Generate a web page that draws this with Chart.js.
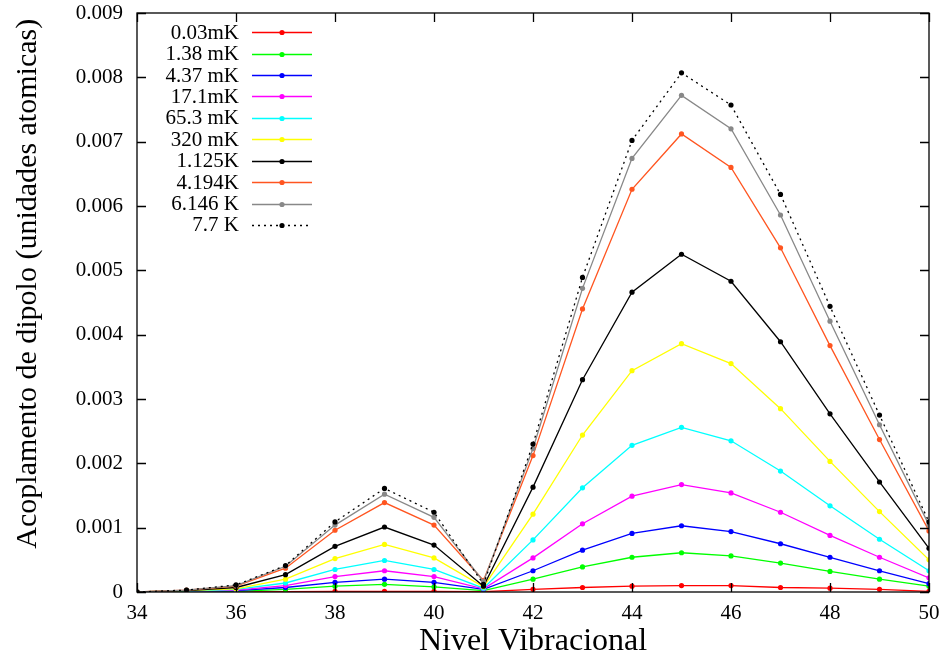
<!DOCTYPE html>
<html><head><meta charset="utf-8">
<script src="https://cdn.jsdelivr.net/npm/chart.js@4/dist/chart.umd.min.js"></script>
<style>html,body{margin:0;padding:0;background:#fff}#wrap{width:946px;height:664px}</style>
</head><body><div id="wrap"><canvas id="c" width="946" height="664"></canvas></div>
<script>
const levels = [34,35,36,37,38,39,40,41,42,43,44,45,46,47,48,49,50];
const seriesLabels = ['0.03mK','1.38 mK','4.37 mK','17.1mK','65.3 mK','320 mK','1.125K','4.194K','6.146 K','7.7 K'];
const s003mK  = [0,0,0,0.000005,0.00001,0.00001,0.00001,0.000005,0.00004,0.00007,0.00009,0.0001,0.0001,0.00007,0.00006,0.00004,0.00001];
const s138mK  = [0,0.000005,0.00001,0.00004,0.00009,0.00012,0.00008,0.00002,0.0002,0.00039,0.00054,0.00061,0.00056,0.00045,0.00032,0.0002,0.00009];
const s437mK  = [0,0.00001,0.00002,0.00007,0.00015,0.0002,0.00015,0.00004,0.00033,0.00065,0.00091,0.00103,0.00094,0.00075,0.00054,0.00033,0.00013];
const s171mK  = [0,0.00001,0.00003,0.0001,0.00024,0.00033,0.00024,0.00005,0.00053,0.00106,0.00149,0.00167,0.00154,0.00124,0.00088,0.00054,0.00022];
const s653mK  = [0,0.00001,0.00004,0.00014,0.00035,0.00049,0.00035,0.00006,0.00081,0.00162,0.00228,0.00256,0.00235,0.00188,0.00134,0.00082,0.00033];
const s320mK  = [0,0.00002,0.00005,0.0002,0.00052,0.00074,0.00053,0.00008,0.00121,0.00244,0.00344,0.00386,0.00355,0.00285,0.00203,0.00125,0.0005];
const s1125K  = [0,0.00002,0.00007,0.00027,0.00071,0.00101,0.00073,0.00009,0.00163,0.0033,0.00466,0.00525,0.00483,0.00389,0.00277,0.00171,0.00068];
const s4194K  = [0,0.00003,0.00009,0.00037,0.00096,0.00139,0.00104,0.00018,0.00212,0.0044,0.00626,0.00712,0.0066,0.00535,0.00383,0.00237,0.00095];
const s6146K  = [0,0.00003,0.0001,0.0004,0.00104,0.00152,0.00116,0.00016,0.00223,0.00472,0.00674,0.00772,0.0072,0.00586,0.00421,0.0026,0.00104];
const s77K    = [0,0.00003,0.00011,0.00041,0.00109,0.00161,0.00124,0.00012,0.0023,0.00489,0.00702,0.00807,0.00757,0.00618,0.00444,0.00275,0.00109];
const allSeries = [s003mK,s138mK,s437mK,s171mK,s653mK,s320mK,s1125K,s4194K,s6146K,s77K];
const colors = ['#ff0000','#00ff00','#0000ff','#ff00ff','#00ffff','#ffff00','#000000','#ff5520','#888888','#000000'];
const dashes = [[],[],[],[],[],[],[],[],[],[2,4]];

const FONT = "'Liberation Serif','DejaVu Serif',serif";

const datasets = allSeries.map((arr,i)=>({
  label: seriesLabels[i],
  data: levels.map((x,j)=>({x:x,y:arr[j]})),
  borderColor: colors[i],
  backgroundColor: colors[i],
  borderWidth: 1.3,
  borderDash: dashes[i],
  pointRadius: 2.6,
  pointBorderWidth: 0,
  pointBackgroundColor: colors[i],
  tension: 0,
  fill: false,
  order: allSeries.length - i
}));

const framePlugin = {
  id: 'frame',
  afterDraw(chart){
    const ctx = chart.ctx, a = chart.chartArea;
    const xs = chart.scales.x, ys = chart.scales.y;
    ctx.save();
    ctx.strokeStyle = '#000'; ctx.lineWidth = 1.3; ctx.setLineDash([]);
    ctx.strokeRect(a.left, a.top, a.right - a.left, a.bottom - a.top);
    const L = 9;
    ctx.beginPath();
    xs.ticks.forEach(t=>{
      const px = Math.round(xs.getPixelForValue(t.value)) + 0.5;
      ctx.moveTo(px, a.bottom); ctx.lineTo(px, a.bottom - L);
      ctx.moveTo(px, a.top); ctx.lineTo(px, a.top + L);
    });
    ys.ticks.forEach(t=>{
      const py = Math.round(ys.getPixelForValue(t.value)) + 0.5;
      ctx.moveTo(a.left, py); ctx.lineTo(a.left + L, py);
      ctx.moveTo(a.right, py); ctx.lineTo(a.right - L, py);
    });
    ctx.stroke();
    // legend
    ctx.font = '21px ' + FONT;
    ctx.textAlign = 'right'; ctx.textBaseline = 'middle'; ctx.fillStyle = '#000';
    chart.data.datasets.forEach((ds,i)=>{
      const y = a.top + 19.3 + i*21.4;
      ctx.fillText(ds.label, a.left + 102, y + 1);
      ctx.strokeStyle = ds.borderColor; ctx.lineWidth = 1.6;
      ctx.setLineDash(ds.borderDash || []);
      ctx.beginPath(); ctx.moveTo(a.left + 115, Math.round(y)+0.5); ctx.lineTo(a.left + 175, Math.round(y)+0.5); ctx.stroke();
      ctx.setLineDash([]);
      ctx.fillStyle = ds.pointBackgroundColor;
      ctx.beginPath(); ctx.arc(a.left + 145, Math.round(y)+0.5, 2.6, 0, Math.PI*2); ctx.fill();
      ctx.fillStyle = '#000';
    });
    ctx.restore();
  }
};

new Chart(document.getElementById('c'), {
  type: 'line',
  data: { datasets: datasets },
  options: {
    responsive: false, animation: false, devicePixelRatio: 1,
    layout: { padding: { top: 13, right: 17, left: 0, bottom: 0 } },
    plugins: { legend: { display: false }, tooltip: { enabled: false } },
    scales: {
      x: {
        type: 'linear', min: 34, max: 50,
        afterFit(s){ s.height = 72; s.paddingLeft = 0; s.paddingRight = 0; },
        grid: { display: false, drawTicks: false },
        border: { display: false },
        ticks: { stepSize: 2, color: '#000', font: { family: FONT, size: 21 }, padding: 9, maxRotation: 0 },
        title: { display: true, text: 'Nivel Vibracional', color: '#000', font: { family: FONT, size: 32 }, padding: { top: 0, bottom: 3 } }
      },
      y: {
        min: 0, max: 0.009,
        afterFit(s){ s.width = 137; s.paddingTop = 0; s.paddingBottom = 0; },
        grid: { display: false, drawTicks: false },
        border: { display: false },
        ticks: { stepSize: 0.001, color: '#000', font: { family: FONT, size: 21 }, padding: 14,
          callback: v => (Math.abs(v) < 1e-12 ? '0' : v.toFixed(3)) },
        title: { display: true, text: '     Acoplamento de dipolo (unidades atomicas)', color: '#000', font: { family: FONT, size: 30 }, padding: { top: 10, bottom: 0 } }
      }
    }
  },
  plugins: [framePlugin]
});
</script>
</body></html>
